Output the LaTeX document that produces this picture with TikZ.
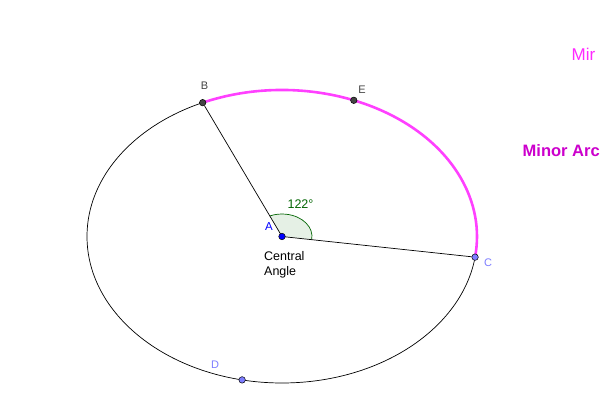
\documentclass[tikz,border=0pt]{standalone}
\usepackage{fontspec}
\setmainfont{Liberation Sans}
\definecolor{arcmag}{RGB}{255,64,255}
\definecolor{mirmag}{RGB}{255,40,255}
\definecolor{minmag}{RGB}{204,0,204}
\definecolor{ptdark}{RGB}{68,68,68}
\definecolor{ptlav}{RGB}{125,125,255}
\definecolor{angfill}{RGB}{229,240,229}
\definecolor{anggreen}{RGB}{0,100,0}
\begin{document}
\begin{tikzpicture}[x=1pt,y=1pt,
  ptstyle/.style={circle,inner sep=0pt,minimum size=6.5pt,draw=black,line width=0.5pt},
  lbl/.style={font=\fontsize{11}{12}\selectfont,inner sep=0pt},
  txt/.style={inner sep=0pt,anchor=base west,font=\fontsize{12.5}{14}\selectfont},
  seg/.style={draw=black,line width=0.7pt}]
\useasboundingbox (0,0) rectangle (600,400);
\coordinate (O) at (282,163.5);
% ellipse
\draw[line width=0.7pt] (O) ellipse [x radius=195pt, y radius=146.5pt];
% angle sector
\fill[angfill] (O) -- ([shift={(O)}]-8.1:30pt and 22.5pt) arc[start angle=-8.1, end angle=114, x radius=30pt, y radius=22.5pt] -- cycle;
\draw[anggreen,line width=0.7pt] ([shift={(O)}]-8.1:30pt and 22.5pt) arc[start angle=-8.1, end angle=114, x radius=30pt, y radius=22.5pt];
% minor arc
\draw[arcmag,line width=2.6pt] ([shift={(O)}]114:195pt and 146.5pt) arc[start angle=114, end angle=-8.1, x radius=195pt, y radius=146.5pt];
% points
\node[ptstyle,fill=ptdark] (B) at ([shift={(O)}]114:195pt and 146.5pt) {};
\node[ptstyle,fill=ptdark] (E) at ([shift={(O)}]68.4:195pt and 146.5pt) {};
\node[ptstyle,fill=ptlav] (C) at ([shift={(O)}]-8.1:195pt and 146.5pt) {};
\node[ptstyle,fill=ptlav] (D) at ([shift={(O)}]258.2:195pt and 146.5pt) {};
% segments
\draw[seg] (O) -- (B);
\draw[seg] (O) -- (C);
\node[ptstyle,fill=blue] (A) at (O) {};
% labels
\node[lbl,text=ptdark] (lB) at (204.5,314.5) {B};
\node[lbl,text=ptdark] (lE) at (362,310) {E};
\node[lbl,text=ptlav] (lC) at (488,137) {C};
\node[lbl,text=ptlav] (lD) at (215,35) {D};
\node[lbl,text=blue,font=\fontsize{11.5}{12}\selectfont] (lA) at (269,173) {A};
\node[inner sep=0pt,text=anggreen,font=\fontsize{12.5}{14}\selectfont] (ang) at (300.5,195.5) {122°};
\node[txt] (cent1) at (264,140) {Central};
\node[txt] (cent2) at (264,125) {Angle};
\node[inner sep=0pt,anchor=base west,text=mirmag,font=\fontsize{17}{18}\selectfont] (mir) at (571.5,339) {Mir};
\node[inner sep=0pt,anchor=base west,text=minmag,font=\fontsize{16.5}{18}\selectfont\bfseries] (minor) at (522.5,243.3) {Minor Arc};
\end{tikzpicture}
\end{document}
